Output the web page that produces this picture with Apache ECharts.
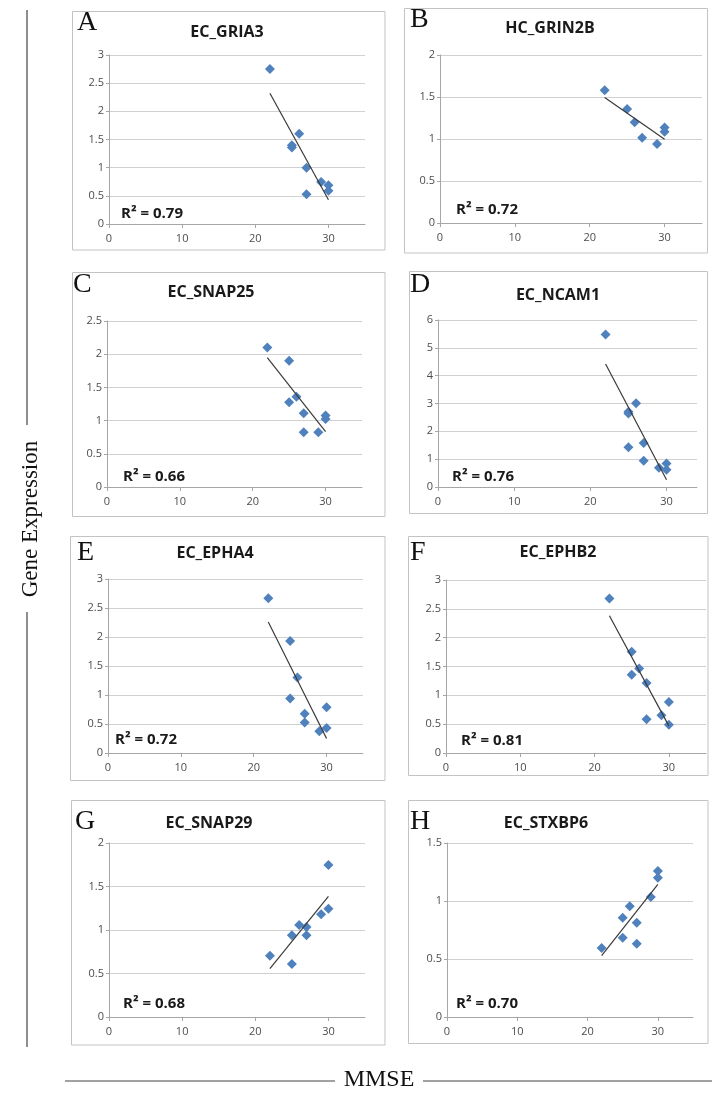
<!DOCTYPE html>
<html>
<head>
<meta charset="utf-8">
<script src="https://cdn.jsdelivr.net/npm/echarts@6/dist/echarts.min.js"></script>
<style>
  html, body { margin: 0; padding: 0; background: #fff; }
  #main { width: 712px; height: 1093px; }
</style>
</head>
<body>
<div id="main"></div>
<script>
// panel labels
var letters = ['A', 'B', 'C', 'D', 'E', 'F', 'G', 'H'];
var titles = ['EC_GRIA3', 'HC_GRIN2B', 'EC_SNAP25', 'EC_NCAM1', 'EC_EPHA4', 'EC_EPHB2', 'EC_SNAP29', 'EC_STXBP6'];
var r2Labels = ['R² = 0.79', 'R² = 0.72', 'R² = 0.66', 'R² = 0.76', 'R² = 0.72', 'R² = 0.81', 'R² = 0.68', 'R² = 0.70'];

// axis ranges
var xTicks = [0, 10, 20, 30];
var xMax = [35, 35, 35, 34, 35, 35, 35, 35];
var yMax = [3, 2, 2.5, 6, 3, 3, 2, 1.5];
var yStep = [0.5, 0.5, 0.5, 1, 0.5, 0.5, 0.5, 0.5];

// MMSE (x) and gene expression (y) per panel
var mmseA = [22, 25, 25, 26, 27, 27, 29, 30, 30];
var exprA = [2.75, 1.40, 1.36, 1.60, 1.00, 0.53, 0.745, 0.69, 0.59];
var trendA = [[22, 2.32], [30, 0.43]];

var mmseB = [22, 25, 26, 27, 29, 30, 30];
var exprB = [1.58, 1.356, 1.20, 1.014, 0.94, 1.137, 1.085];
var trendB = [[22, 1.495], [30, 0.998]];

var mmseC = [22, 25, 25, 26, 27, 27, 29, 30, 30];
var exprC = [2.10, 1.90, 1.275, 1.36, 1.11, 0.825, 0.825, 1.075, 1.025];
var trendC = [[22, 1.95], [30, 0.835]];

var mmseD = [22, 25, 25, 25, 26, 27, 27, 29, 30, 30];
var exprD = [5.48, 2.70, 2.64, 1.43, 3.01, 1.58, 0.94, 0.69, 0.84, 0.62];
var trendD = [[22, 4.42], [30, 0.26]];

var mmseE = [22, 25, 25, 26, 27, 27, 29, 30, 30];
var exprE = [2.67, 1.93, 0.94, 1.30, 0.675, 0.525, 0.375, 0.79, 0.43];
var trendE = [[22, 2.26], [30, 0.25]];

var mmseF = [22, 25, 25, 26, 27, 27, 29, 30, 30];
var exprF = [2.68, 1.755, 1.355, 1.465, 1.216, 0.585, 0.654, 0.886, 0.49];
var trendF = [[22, 2.38], [30, 0.47]];

var mmseG = [22, 25, 25, 26, 27, 27, 29, 30, 30];
var exprG = [0.705, 0.61, 0.94, 1.057, 1.034, 0.94, 1.18, 1.245, 1.747];
var trendG = [[22, 0.556], [30, 1.387]];

var mmseH = [22, 25, 25, 26, 27, 27, 29, 30, 30];
var exprH = [0.595, 0.856, 0.684, 0.954, 0.813, 0.632, 1.034, 1.259, 1.20];
var trendH = [[22, 0.53], [30, 1.144]];

var mmse = [mmseA, mmseB, mmseC, mmseD, mmseE, mmseF, mmseG, mmseH];
var expr = [exprA, exprB, exprC, exprD, exprE, exprF, exprG, exprH];
var trends = [trendA, trendB, trendC, trendD, trendE, trendF, trendG, trendH];

// pixel layout of each panel: grid, outer box, title, letter, R² label
var layout = [
  { grid: [109, 55, 256, 169],   box: [72.5, 11.5, 312.5, 238.5], title: [227, 32],   letter: [77, 23],  r2: [121, 214] },
  { grid: [440, 55, 262, 168],   box: [404.5, 8.5, 303, 244.5],   title: [550, 28],   letter: [410, 20], r2: [456, 210] },
  { grid: [107, 321, 255, 166],  box: [72.5, 272.5, 312.5, 244],  title: [211, 292],  letter: [73, 285], r2: [123, 477] },
  { grid: [438, 320, 259, 167],  box: [409.5, 271.5, 298, 242],   title: [558, 295],  letter: [410, 285], r2: [452, 477] },
  { grid: [108, 579, 255, 174],  box: [70.5, 536.5, 314.5, 244],  title: [215, 553],  letter: [77, 553], r2: [115, 740] },
  { grid: [446, 580, 260, 173],  box: [408.5, 536.5, 299.5, 239], title: [558, 552],  letter: [410, 553], r2: [461, 741] },
  { grid: [109, 843, 256, 174],  box: [71.5, 800.5, 313.5, 244.5], title: [209, 823], letter: [75, 822], r2: [123, 1004] },
  { grid: [447, 843, 246, 174],  box: [408.5, 800.5, 299.5, 243], title: [546, 823],  letter: [410, 822], r2: [456, 1004] }
];

var grids = [], xAxes = [], yAxes = [], series = [], graphics = [];

layout.forEach(function (p, i) {
  grids.push({ left: p.grid[0], top: p.grid[1], width: p.grid[2], height: p.grid[3] });
  xAxes.push({
    gridIndex: i, type: 'value', min: 0, max: xMax[i], interval: 10,
    axisLine: { show: true, lineStyle: { color: '#a6a6a6', width: 1 } },
    axisTick: { show: true, length: 4, customValues: xTicks, lineStyle: { color: '#a6a6a6' } },
    axisLabel: {
      color: '#4d4d4d', fontSize: 11, fontFamily: 'Open Sans', margin: 9, customValues: xTicks,
      formatter: function (v) { return v % 10 === 0 ? v : ''; }
    },
    splitLine: { show: false }
  });
  yAxes.push({
    gridIndex: i, type: 'value', min: 0, max: yMax[i], interval: yStep[i],
    axisLine: { show: true, lineStyle: { color: '#a6a6a6', width: 1 } },
    axisTick: { show: true, length: 3, lineStyle: { color: '#a6a6a6' } },
    axisLabel: { color: '#4d4d4d', fontSize: 11, fontFamily: 'Open Sans', margin: 5 },
    splitLine: { show: true, lineStyle: { color: '#d0d0d0', width: 1 } }
  });
  series.push({
    type: 'scatter', xAxisIndex: i, yAxisIndex: i,
    data: mmse[i].map(function (x, k) { return [x, expr[i][k]]; }),
    symbol: 'diamond', symbolSize: 10,
    itemStyle: { color: '#4f81bd', opacity: 1 },
    z: 2
  });
  series.push({
    type: 'line', xAxisIndex: i, yAxisIndex: i, data: trends[i],
    showSymbol: false, symbol: 'none',
    lineStyle: { color: '#3a3a3a', width: 1.2 },
    z: 3
  });

  graphics.push({
    type: 'rect', z: -10,
    shape: { x: p.box[0], y: p.box[1], width: p.box[2], height: p.box[3] },
    style: { fill: 'transparent', stroke: '#c3c3c3', lineWidth: 1 }
  });
  graphics.push({
    type: 'text', x: p.title[0], y: p.title[1],
    style: {
      text: titles[i], font: 'bold 16px "Open Sans"', fill: '#1a1a1a',
      align: 'center', verticalAlign: 'middle', textAlign: 'center', textVerticalAlign: 'middle'
    }
  });
  graphics.push({
    type: 'text', x: p.letter[0], y: p.letter[1],
    style: {
      text: letters[i], font: '28px "Liberation Serif"', fill: '#111',
      align: 'left', verticalAlign: 'middle', textAlign: 'left', textVerticalAlign: 'middle'
    }
  });
  graphics.push({
    type: 'text', x: p.r2[0], y: p.r2[1],
    style: {
      text: r2Labels[i], font: 'bold 15px "Open Sans"', fill: '#1a1a1a',
      align: 'left', verticalAlign: 'middle', textAlign: 'left', textVerticalAlign: 'middle'
    }
  });
});

// outer axis titles with their rules
graphics.push(
  { type: 'line', shape: { x1: 27, y1: 10, x2: 27, y2: 425 }, style: { stroke: '#444', lineWidth: 1.2 } },
  { type: 'line', shape: { x1: 27, y1: 612, x2: 27, y2: 1047 }, style: { stroke: '#444', lineWidth: 1.2 } },
  {
    type: 'text', x: 31, y: 519, rotation: Math.PI / 2,
    style: {
      text: 'Gene Expression', font: '23px "Liberation Serif"', fill: '#111',
      align: 'center', verticalAlign: 'middle', textAlign: 'center', textVerticalAlign: 'middle'
    }
  },
  { type: 'line', shape: { x1: 65, y1: 1081, x2: 335, y2: 1081 }, style: { stroke: '#444', lineWidth: 1.2 } },
  { type: 'line', shape: { x1: 423, y1: 1081, x2: 712, y2: 1081 }, style: { stroke: '#444', lineWidth: 1.2 } },
  {
    type: 'text', x: 379, y: 1080,
    style: {
      text: 'MMSE', font: '24px "Liberation Serif"', fill: '#111',
      align: 'center', verticalAlign: 'middle', textAlign: 'center', textVerticalAlign: 'middle'
    }
  }
);

var chart = echarts.init(document.getElementById('main'));
chart.setOption({
  animation: false,
  grid: grids,
  xAxis: xAxes,
  yAxis: yAxes,
  series: series,
  graphic: { elements: graphics }
});
</script>
</body>
</html>
